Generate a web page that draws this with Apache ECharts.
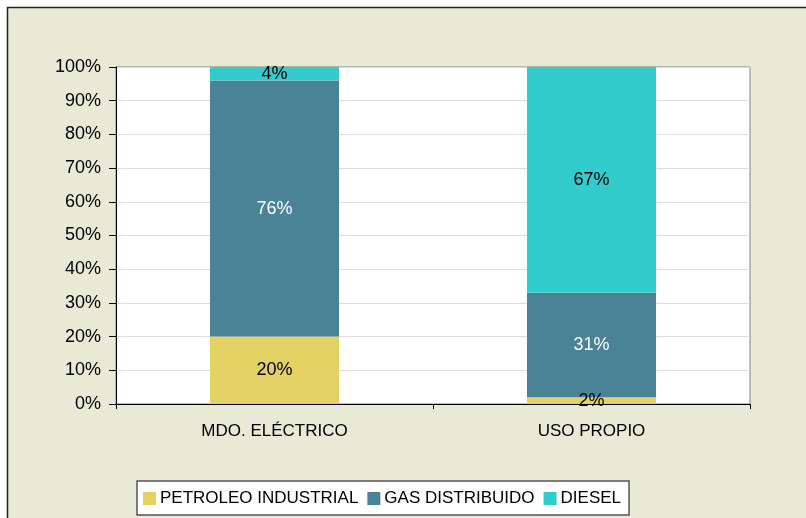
<!DOCTYPE html>
<html>
<head>
<meta charset="utf-8">
<script src="https://cdn.jsdelivr.net/npm/echarts@6/dist/echarts.min.js"></script>
<style>
  html, body { margin: 0; padding: 0; background: #ffffff; }
  #chart { width: 806px; height: 518px; }
</style>
</head>
<body>
<div id="chart"></div>
<script>
// Categories and share of each fuel (%)
const categories = ['MDO. ELÉCTRICO', 'USO PROPIO'];
const petroleoIndustrial = [20, 2];
const gasDistribuido = [76, 31];
const diesel = [4, 67];
const yTicks = [0, 10, 20, 30, 40, 50, 60, 70, 80, 90, 100];

const FONT = 'Liberation Sans, Arial, sans-serif';

function barSeries(name, data, color, labelColor) {
  return {
    name: name,
    type: 'bar',
    stack: 'total',
    barWidth: '40.7%',
    data: data,
    itemStyle: { color: color },
    label: {
      show: true,
      position: 'inside',
      formatter: p => p.value + '%',
      fontFamily: FONT,
      fontSize: 18,
      color: labelColor
    }
  };
}

const chart = echarts.init(document.getElementById('chart'), null, { renderer: 'canvas' });
chart.setOption({
  backgroundColor: '#ffffff',
  animation: false,
  graphic: [{
    type: 'rect',
    z: -10,
    shape: { x: 7.5, y: 7.5, width: 900, height: 600 },
    style: { fill: '#E9EAD6', stroke: '#222222', lineWidth: 1.5 }
  }],
  grid: {
    left: 116, right: 56, top: 67, bottom: 114,
    show: true,
    backgroundColor: '#ffffff',
    borderColor: '#808080',
    borderWidth: 1
  },
  legend: {
    left: 137, top: 481,
    itemWidth: 13, itemHeight: 13, itemGap: 9,
    padding: [9, 8, 8, 6],
    backgroundColor: '#ffffff',
    borderColor: '#555555',
    borderWidth: 1.5,
    icon: 'rect',
    textStyle: { fontFamily: FONT, fontSize: 17, color: '#000000', padding: [0, 0, 0, -1] },
    data: ['PETROLEO INDUSTRIAL', 'GAS DISTRIBUIDO', 'DIESEL']
  },
  xAxis: {
    type: 'category',
    data: categories,
    axisLine: { lineStyle: { color: '#000000', width: 1 } },
    axisTick: { show: true, alignWithLabel: false, length: 5, lineStyle: { color: '#000000' } },
    axisLabel: { fontFamily: FONT, fontSize: 17, color: '#000000', margin: 19 }
  },
  yAxis: {
    type: 'value',
    min: yTicks[0],
    max: yTicks[yTicks.length - 1],
    interval: 10,
    axisLine: { show: true, lineStyle: { color: '#000000', width: 1 } },
    axisTick: { show: true, length: 7, lineStyle: { color: '#000000' } },
    splitLine: { lineStyle: { color: '#DDDDDD' } },
    axisLabel: { fontFamily: FONT, fontSize: 18, color: '#000000', margin: 15, formatter: '{value}%' }
  },
  series: [
    barSeries('PETROLEO INDUSTRIAL', petroleoIndustrial, '#E3D263', '#000000'),
    barSeries('GAS DISTRIBUIDO', gasDistribuido, '#4A8297', '#ffffff'),
    barSeries('DIESEL', diesel, '#33CCCC', '#000000')
  ]
});
</script>
</body>
</html>
